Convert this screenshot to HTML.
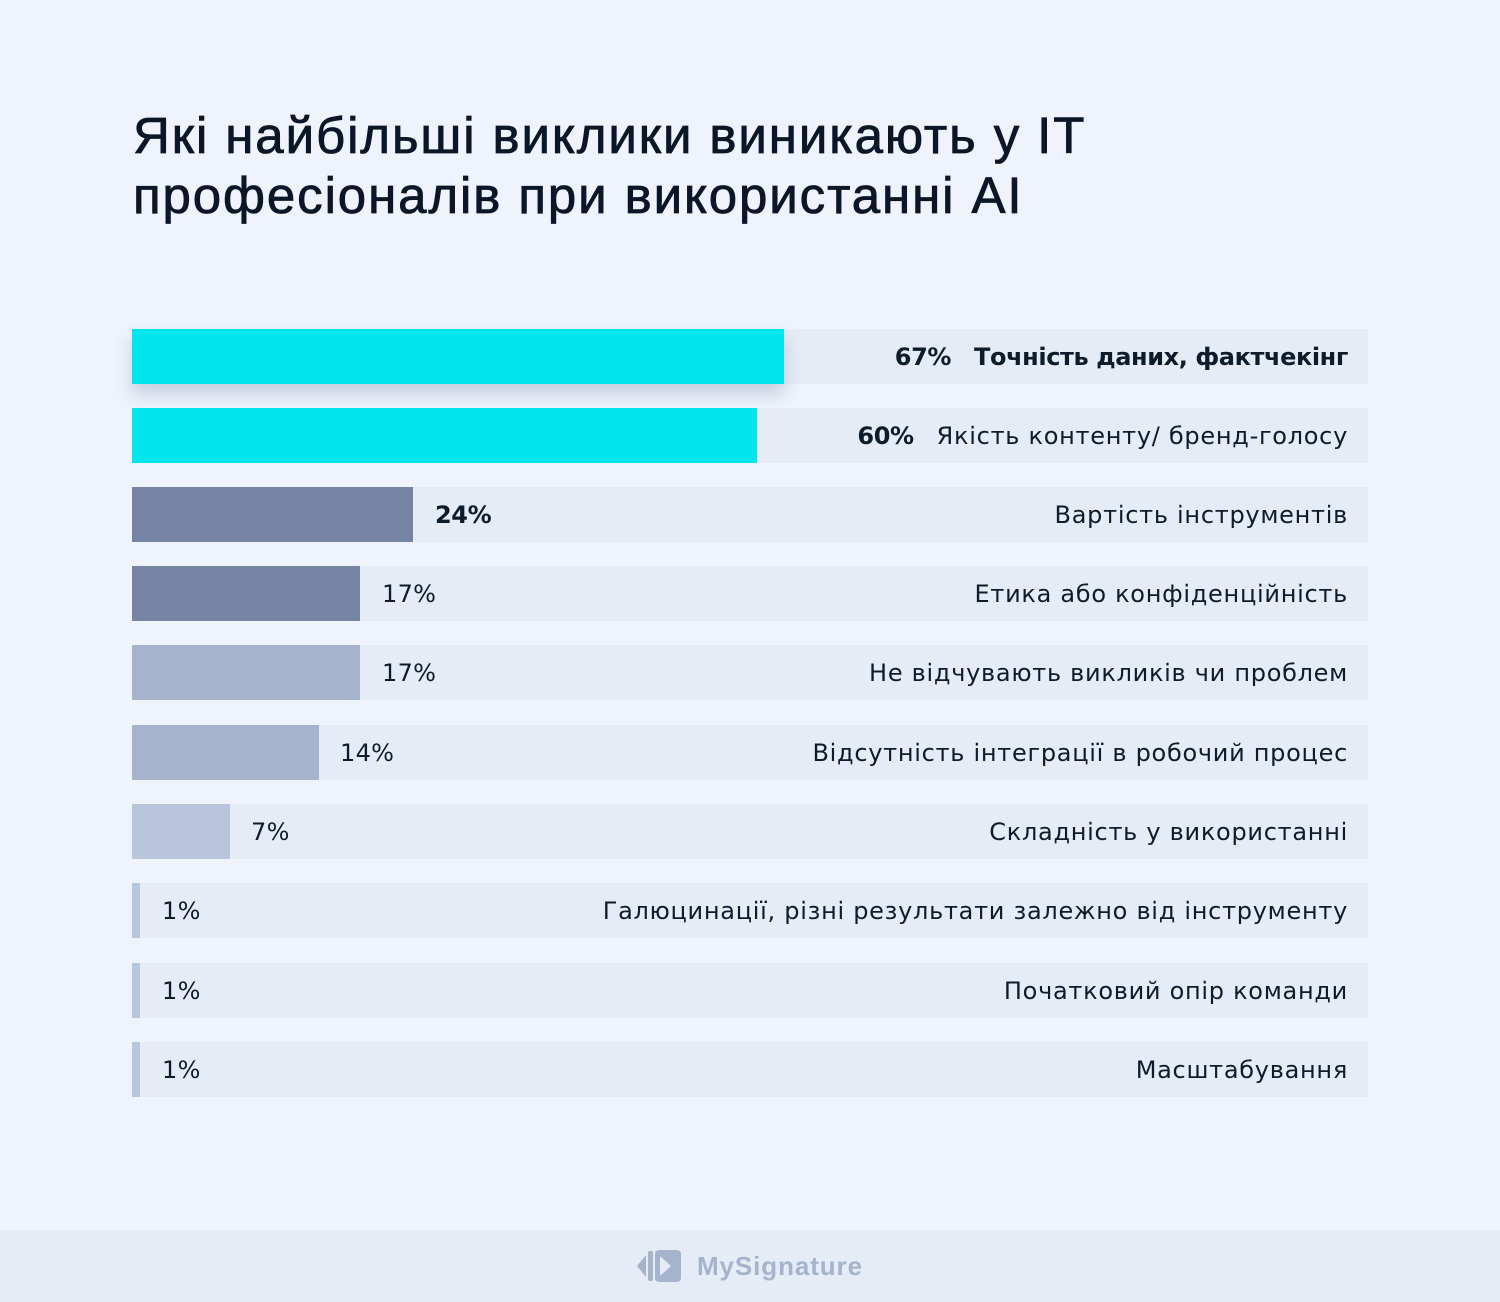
<!DOCTYPE html>
<html><head><meta charset="utf-8">
<style>
*{margin:0;padding:0;box-sizing:border-box}
body{width:1500px;height:1302px;background:#EFF3FB;position:relative;overflow:hidden;font-family:"DejaVu Sans","Liberation Sans",sans-serif;color:#0D1B2A}
.title{position:absolute;left:133px;top:106px;font-family:"Liberation Sans",sans-serif;font-size:51px;line-height:60px;font-weight:400;color:#0B1628;letter-spacing:1.9px;-webkit-text-stroke:0.8px #0B1628;white-space:nowrap}
.row{position:absolute;left:132px;width:1236px;height:55px;background:#E5ECF5}
.bar{position:absolute;left:0;top:0;height:55px}
.pct{position:absolute;top:0;line-height:56px;font-size:24px;color:#0D1B2A;letter-spacing:0.3px}
.lbl{position:absolute;right:20px;top:0;line-height:56px;font-size:24px;color:#0D1B2A;letter-spacing:0.72px;white-space:nowrap}
.b{font-weight:700}
.bb{font-weight:700;letter-spacing:-0.4px}
.g{display:inline-block;width:23px}
.footer{position:absolute;left:0;top:1230px;width:1500px;height:72px;background:#E6ECF5}
.logo{position:absolute;left:697px;top:1249px;font-family:"Liberation Sans",sans-serif;font-size:26px;font-weight:700;color:#A5B3CD;line-height:34px;letter-spacing:0.9px}
</style></head><body>
<div class="title">Які найбільші виклики виникають у IT<br>професіоналів при використанні AI</div>

<div class="row" style="top:329px"><div class="bar" style="width:652px;background:#00E5EE;box-shadow:0 10px 16px rgba(90,110,150,0.28)"></div><span class="lbl"><span class="bb">67%</span><span class="g"></span><span class="bb">Точність даних, фактчекінг</span></span></div>
<div class="row" style="top:408px"><div class="bar" style="width:625px;background:#00E5EE"></div><span class="lbl"><span class="bb">60%</span><span class="g"></span>Якість контенту/ бренд-голосу</span></div>
<div class="row" style="top:487px"><div class="bar" style="width:281px;background:#7484A2"></div><span class="pct bb" style="left:303px">24%</span><span class="lbl">Вартість інструментів</span></div>
<div class="row" style="top:566px"><div class="bar" style="width:228px;background:#7484A2"></div><span class="pct" style="left:250px">17%</span><span class="lbl">Етика або конфіденційність</span></div>
<div class="row" style="top:645px"><div class="bar" style="width:228px;background:#A5B3CD"></div><span class="pct" style="left:250px">17%</span><span class="lbl">Не відчувають викликів чи проблем</span></div>
<div class="row" style="top:725px"><div class="bar" style="width:187px;background:#A5B3CD"></div><span class="pct" style="left:208px">14%</span><span class="lbl">Відсутність інтеграції в робочий процес</span></div>
<div class="row" style="top:804px"><div class="bar" style="width:98px;background:#B9C5DA"></div><span class="pct" style="left:119px">7%</span><span class="lbl">Складність у використанні</span></div>
<div class="row" style="top:883px"><div class="bar" style="width:8px;background:#B9C5DA"></div><span class="pct" style="left:30px">1%</span><span class="lbl">Галюцинації, різні результати залежно від інструменту</span></div>
<div class="row" style="top:963px"><div class="bar" style="width:8px;background:#B9C5DA"></div><span class="pct" style="left:30px">1%</span><span class="lbl">Початковий опір команди</span></div>
<div class="row" style="top:1042px"><div class="bar" style="width:8px;background:#B9C5DA"></div><span class="pct" style="left:30px">1%</span><span class="lbl">Масштабування</span></div>

<div class="footer"></div>
<svg style="position:absolute;left:637px;top:1249px" width="44" height="34" viewBox="0 0 44 34">
<polygon points="0,17 9,6 9,28" fill="#A5B3CD"/>
<rect x="11" y="2" width="5" height="30" rx="2" fill="#A5B3CD"/>
<rect x="18" y="1" width="26" height="32" rx="4" fill="#A5B3CD"/>
<polygon points="23,7 34,17 23,27" fill="#E6ECF5"/>
</svg>
<div class="logo">MySignature</div>
</body></html>
